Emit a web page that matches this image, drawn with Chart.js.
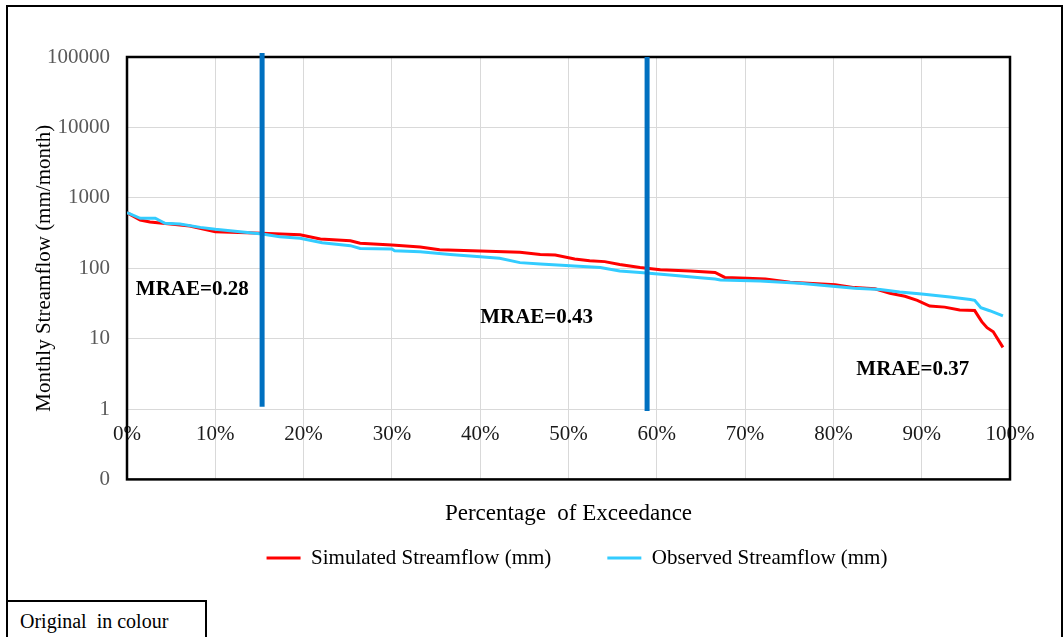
<!DOCTYPE html>
<html>
<head>
<meta charset="utf-8">
<title>Flow duration curve</title>
<script src="https://cdn.jsdelivr.net/npm/chart.js@4.4.1/dist/chart.umd.min.js"></script>
<style>
  body { margin: 0; background: #fff; }
  #wrap { position: relative; width: 1063px; height: 637px; overflow: hidden; }
  #frame { position: absolute; left: 6px; top: 5px; width: 1057px; height: 700px; border: 2px solid #000; box-sizing: border-box; }
  #note { position: absolute; left: 6px; top: 600px; width: 201px; height: 60px; border: 2px solid #000; box-sizing: border-box;
          font: 20px "Liberation Serif", "Times New Roman", serif; padding: 7px 0 0 12px; line-height: 24px; color: #000; }
  canvas { position: absolute; left: 0; top: 0; }
</style>
</head>
<body>
<div id="wrap">
  <div id="frame"></div>
  <div id="note">Original&nbsp; in colour</div>
  <canvas id="myChart" width="1063" height="637"></canvas>
</div>
<script>
// values (percent of exceedance -> mm/month)
const simPct  = [0, 1.5, 2.6, 4.9, 7.1, 10, 15.3, 19.6, 21.9, 25.3, 26.4, 30, 33.2, 35.4, 40, 44.5, 46.8, 48.5, 50.7, 52.4, 54.1, 55.8, 58.1, 60.4, 63.8, 66.6, 67.7, 70.2, 72.3, 75.1, 80.2, 82.4, 84.7, 86.4, 88.1, 89.5, 90.9, 92.6, 94.3, 96, 96.8, 97.4, 98.1, 99.2];
const simFlow = [615, 484, 453, 425, 398, 330, 313, 299, 260, 246, 226, 214, 200, 183, 176, 168, 157, 154, 135, 128, 124, 113, 102, 95, 91, 87, 74, 72, 70, 63, 58, 53, 51, 44, 40, 35, 29, 28, 25.5, 25, 17.4, 14.3, 12.5, 7.5];

const obsPct  = [0, 1.5, 3.2, 4.3, 6, 8.3, 10, 12.8, 15.3, 17.3, 19.6, 22.1, 25.3, 26.4, 30, 30.3, 33.2, 36.6, 40, 42.2, 44.5, 46.8, 50.2, 53.6, 55.8, 58.1, 61.5, 64.9, 66.6, 67.2, 71.7, 76.2, 79.6, 82.4, 85.3, 87.5, 90, 93.2, 95.5, 96, 96.7, 97.7, 99.2];
const obsFlow = [615, 512, 512, 434, 425, 380, 357, 330, 306, 280, 266, 230, 209, 191, 187, 177, 171, 157, 146, 138, 120, 115, 108, 102, 91, 87, 80, 73, 70, 68, 66, 61, 56, 52, 50, 46, 43, 39, 36, 35, 27.5, 24.9, 21];

// the two split lines between flow segments
const splitPct  = [15.3, 58.9];
const splitLow  = [1.08, 0.94];
const splitHigh = [114000, 100000];

const mraeText = ['MRAE=0.28', 'MRAE=0.43', 'MRAE=0.37'];

const yTicks      = [0.1, 1, 10, 100, 1000, 10000, 100000];
const yTickLabels = ['0', '1', '10', '100', '1000', '10000', '100000'];
const xTicks      = [0, 10, 20, 30, 40, 50, 60, 70, 80, 90, 100];

const toPoints = (xs, ys) => xs.map((p, i) => ({ x: p, y: ys[i] }));

// where the MRAE labels sit (data space)
const notePos = [
  { x: 1, y: 50 },
  { x: 40, y: 19.6 },
  { x: 82.6, y: 3.6 }
];

Chart.defaults.font.family = "'Liberation Serif', 'Times New Roman', serif";
Chart.defaults.color = '#000';

// plot border, MRAE labels, legend nudge
const plotExtras = {
  id: 'plotExtras',
  afterLayout(chart) {
    // excel puts the legend a bit right of centre and close under the axis title
    const lg = chart.legend;
    const h = lg.bottom - lg.top;
    lg.left += 8.5;
    lg.right += 8.5;
    lg.top = 491.5;
    lg.bottom = lg.top + h;
  },
  beforeDatasetsDraw(chart) {
    const { ctx, chartArea: a } = chart;
    ctx.save();
    ctx.strokeStyle = '#000';
    ctx.lineWidth = 2.5;
    ctx.strokeRect(a.left, a.top, a.right - a.left, a.bottom - a.top);
    ctx.restore();
  },
  afterDatasetsDraw(chart) {
    const { ctx, scales } = chart;
    ctx.save();
    ctx.font = "bold 21px 'Liberation Serif', 'Times New Roman', serif";
    ctx.fillStyle = '#000';
    ctx.textAlign = 'left';
    ctx.textBaseline = 'middle';
    mraeText.forEach((t, i) => {
      ctx.fillText(t, scales.x.getPixelForValue(notePos[i].x), scales.y.getPixelForValue(notePos[i].y));
    });
    ctx.restore();
  }
};

const splitSets = splitPct.map((p, i) => ({
  label: 'split' + (i + 1),
  data: [{ x: p, y: splitLow[i] }, { x: p, y: splitHigh[i] }],
  borderColor: '#0070C0',
  backgroundColor: '#0070C0',
  borderWidth: 5,
  pointRadius: 0,
  clip: false,
  order: 0
}));

const ctx = document.getElementById('myChart').getContext('2d');

new Chart(ctx, {
  type: 'line',
  data: {
    datasets: [
      {
        label: 'Simulated Streamflow (mm)',
        data: toPoints(simPct, simFlow),
        borderColor: '#FF0000',
        backgroundColor: '#FF0000',
        borderWidth: 3,
        pointRadius: 0,
        order: 2
      },
      {
        label: 'Observed Streamflow (mm)',
        data: toPoints(obsPct, obsFlow),
        borderColor: '#33CCFF',
        backgroundColor: '#33CCFF',
        borderWidth: 3,
        pointRadius: 0,
        order: 1
      },
      ...splitSets
    ]
  },
  options: {
    responsive: false,
    animation: false,
    layout: { padding: { left: 20, top: 57, right: 53, bottom: 16 } },
    plugins: {
      tooltip: { enabled: false },
      legend: {
        position: 'bottom',
        fullSize: false,
        labels: {
          usePointStyle: true,
          pointStyle: 'line',
          pointStyleWidth: 34,
          padding: 56,
          color: '#000',
          font: { size: 21 },
          filter: (item) => item.datasetIndex < 2,
          sort: (a, b) => a.datasetIndex - b.datasetIndex
        }
      }
    },
    scales: {
      x: {
        type: 'linear',
        min: 0,
        max: 100,
        position: 'bottom',
        ticks: { display: false },
        grid: { display: false, drawTicks: false },
        border: { display: false },
        title: {
          display: true,
          text: 'Percentage  of Exceedance',
          color: '#000',
          font: { size: 23 },
          padding: { top: 21, bottom: 6 }
        }
      },
      xt: {
        type: 'linear',
        min: 0,
        max: 100,
        position: { y: 1 },
        afterBuildTicks: (s) => { s.ticks = xTicks.map(v => ({ value: v })); },
        ticks: {
          padding: 13,
          color: '#1a1a1a',
          font: { size: 21 },
          maxRotation: 0,
          callback: (v) => v + '%'
        },
        grid: { color: '#d9d9d9', drawTicks: false },
        border: { display: false }
      },
      y: {
        type: 'logarithmic',
        min: 0.1,
        max: 100000,
        afterBuildTicks: (s) => { s.ticks = yTicks.map(v => ({ value: v })); },
        afterFit: (s) => { s.width = 107; },
        ticks: {
          padding: 17,
          color: '#595959',
          font: { size: 21 },
          callback: (v) => yTickLabels[yTicks.indexOf(v)]
        },
        grid: { color: '#d9d9d9', drawTicks: false },
        border: { display: false },
        title: {
          display: true,
          text: 'Monthly Streamflow (mm/month)',
          color: '#000',
          font: { size: 21 },
          padding: { top: 12, bottom: 0 }
        }
      }
    }
  },
  plugins: [plotExtras]
});
</script>
</body>
</html>
